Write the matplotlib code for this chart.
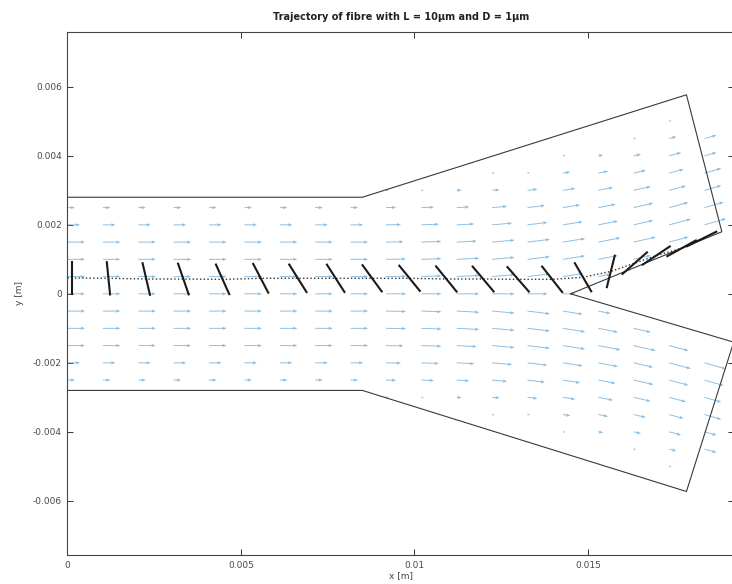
import numpy as np
import matplotlib
matplotlib.use('Agg')
import matplotlib.pyplot as plt

# channel outline, upper and lower halves
upper_x = [0.0, 0.0085, 0.01784, 0.01886, 0.0145]
upper_y = [0.0028, 0.0028, 0.00577, 0.0018, 0.0]
lower_x = [0.0, 0.0085, 0.01784, 0.0192, 0.0145]
lower_y = [-0.0028, -0.0028, -0.00573, -0.0014, 0.0]

# quiver grid
grid_x = [0.0, 0.00102, 0.00204, 0.00306, 0.00408, 0.0051, 0.00612, 0.00714,
          0.00816, 0.00918, 0.0102, 0.01122, 0.01224, 0.01326, 0.01428,
          0.0153, 0.01632, 0.01734, 0.01836]
grid_y = [0.0055, 0.005, 0.0045, 0.004, 0.0035, 0.003, 0.0025, 0.002,
          0.0015, 0.001, 0.0005, 0.0]

# arrow length (relative units) read per row, upper half, top row first
speed_rows = [
    "0000000000000000000",
    "0000000000000000010",
    "0000000000000000135",
    "0000000000000012355",
    "0000000000001134567",
    "0000000001123456777",
    "3333333334556777888",
    "5555555556778888899",
    "7777777777889999980",
    "7777777778899998700",
    "7777777778899985000",
    "7777777778899850000",
]
# flow direction per column (degrees, upper half)
col_angle = [0, 0, 0, 0, 0, 0, 0, 0, 0, 1, 2, 3, 5, 7, 9, 11, 13, 15, 16]

# fibre snapshots: centre and orientation
fibre_x = [0.00012, 0.00118, 0.00227, 0.00334, 0.00447, 0.00557, 0.00664,
           0.00773, 0.00878, 0.00986, 0.01092, 0.01198, 0.01299, 0.01397,
           0.01486, 0.01566, 0.01635, 0.01697, 0.0177, 0.01828]
fibre_y = [0.00046, 0.00045, 0.00043, 0.00043, 0.00042, 0.00045, 0.00045,
           0.00045, 0.00045, 0.00045, 0.00043, 0.00043, 0.00042, 0.00042,
           0.00048, 0.00065, 0.00089, 0.00111, 0.00132, 0.00159]
fibre_angle = [90, 95.7, 103, 109, 114, 117.5, 122, 122.5, 126, 129, 129,
               130, 131, 128, 120, 76, 41.5, 34, 29, 26.6]
fibre_len = 0.001  # drawn length (scaled)

xticks = [0, 0.005, 0.01, 0.015]
xtick_labels = ['0', '0.005', '0.01', '0.015']
yticks = [-0.006, -0.004, -0.002, 0, 0.002, 0.004, 0.006]
ytick_labels = ['-0.006', '-0.004', '-0.002', '0', '0.002', '0.004', '0.006']

fig = plt.figure(figsize=(7.32, 5.84), dpi=100)
ax = fig.add_axes([0.0922, 0.0497, 0.9105, 0.8955])

# velocity field
px_unit = 2.5 / 34700.0
X, Y, U, V = [], [], [], []
for i, row in enumerate(speed_rows):
    for j, ch in enumerate(row):
        s = int(ch)
        if s == 0:
            continue
        a = np.deg2rad(col_angle[j]) if grid_y[i] > 0 else 0.0
        u = s * px_unit * np.cos(a)
        v = s * px_unit * np.sin(a)
        X.append(grid_x[j]); Y.append(grid_y[i]); U.append(u); V.append(v)
        if grid_y[i] > 0:
            X.append(grid_x[j]); Y.append(-grid_y[i]); U.append(u); V.append(-v)

ax.quiver(X, Y, U, V, angles='xy', scale_units='xy', scale=1,
          color='#8bbde2', width=0.0014, headwidth=3.5, headlength=4.5,
          headaxislength=4, zorder=2)

# channel walls
ax.plot(upper_x, upper_y, color='#3a3a3a', lw=0.8, zorder=3)
ax.plot(lower_x, lower_y, color='#3a3a3a', lw=0.8, zorder=3)

# trajectory and fibres
ax.plot([0.0] + fibre_x, [fibre_y[0]] + fibre_y, ':', color='#333333',
        lw=1.0, zorder=3)
for cx, cy, ang in zip(fibre_x, fibre_y, fibre_angle):
    t = np.deg2rad(ang)
    dx = 0.5 * fibre_len * np.cos(t)
    dy = 0.5 * fibre_len * np.sin(t)
    ax.plot([cx - dx, cx + dx], [cy - dy, cy + dy], color='#1a1a1a',
            lw=1.5, solid_capstyle='butt', zorder=4)

ax.set_xlim(0, 0.01921)
ax.set_ylim(-0.00757, 0.00759)
ax.set_xticks(xticks)
ax.set_xticklabels(xtick_labels)
ax.set_yticks(yticks)
ax.set_yticklabels(ytick_labels)
ax.tick_params(direction='in', length=4, width=0.7, top=True, right=True,
               labelsize=6.5, labelcolor='#4a4a4a', color='#333333', pad=4)
for sp in ax.spines.values():
    sp.set_color('#444444')
    sp.set_linewidth(0.8)

ax.set_xlabel('x [m]', fontsize=6.5, color='#444444', labelpad=1)
ax.set_ylabel('y [m]', fontsize=6.5, color='#444444', labelpad=6)
ax.set_title('Trajectory of fibre with L = 10μm and D = 1μm', fontsize=7,
             fontweight='bold', color='#222222', pad=9)

fig.savefig('out.png', dpi=100)
